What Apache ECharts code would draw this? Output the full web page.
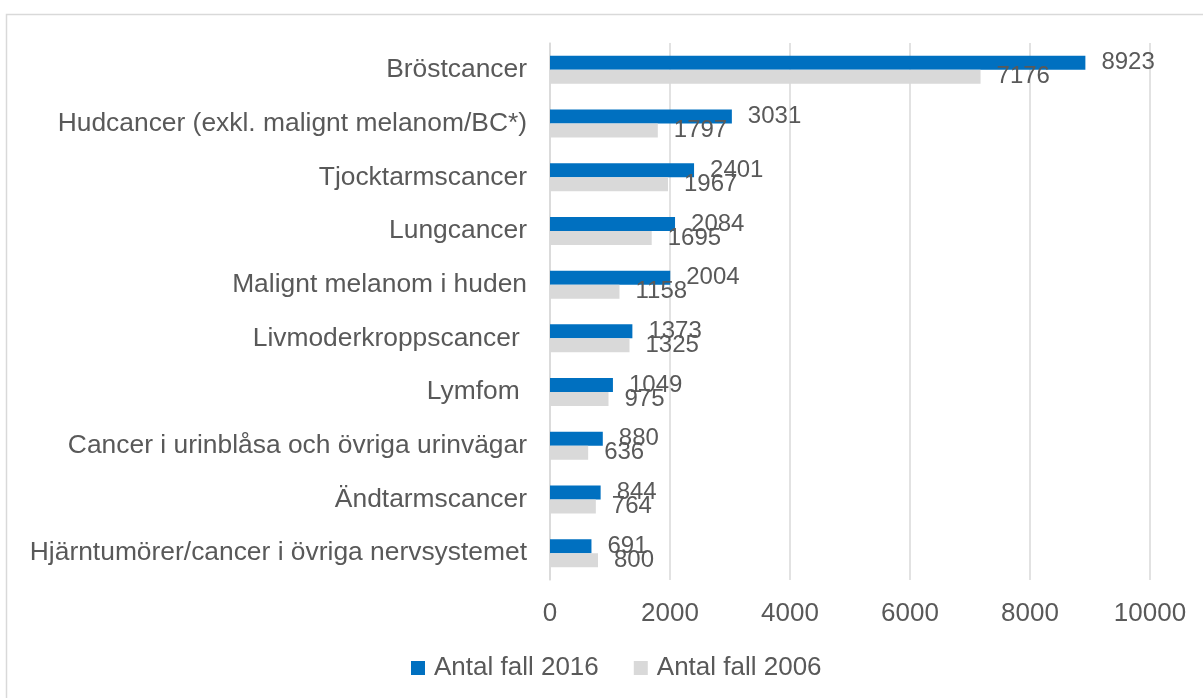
<!DOCTYPE html>
<html>
<head>
<meta charset="utf-8">
<script src="https://cdn.jsdelivr.net/npm/echarts@6/dist/echarts.min.js"></script>
<style>
  html, body { margin: 0; padding: 0; background: #fff; }
  #chart { width: 1203px; height: 698px; }
</style>
</head>
<body>
<div id="chart"></div>
<script>
const categories = [
  'Bröstcancer',
  'Hudcancer (exkl. malignt melanom/BC*)',
  'Tjocktarmscancer',
  'Lungcancer',
  'Malignt melanom i huden',
  'Livmoderkroppscancer ',
  'Lymfom ',
  'Cancer i urinblåsa och övriga urinvägar',
  'Ändtarmscancer',
  'Hjärntumörer/cancer i övriga nervsystemet'
]
const cases2016 = [8923, 3031, 2401, 2084, 2004, 1373, 1049, 880, 844, 691]
const cases2006 = [7176, 1797, 1967, 1695, 1158, 1325, 975, 636, 764, 800]
const seriesNames = ['Antal fall 2016', 'Antal fall 2006']

const textColor = '#595959'
const font = 'Liberation Sans, Arial, sans-serif'

const chart = echarts.init(document.getElementById('chart'))

const barLabel = {
  show: true,
  position: 'right',
  distance: 16,
  color: textColor,
  fontSize: 24,
  fontFamily: font
}

chart.setOption({
  backgroundColor: '#fff',
  animation: false,
  graphic: [{
    type: 'rect',
    shape: { x: 6.5, y: 14.5, width: 1400, height: 900 },
    style: { fill: 'none', stroke: '#d9d9d9', lineWidth: 1.5 },
    silent: true
  }],
  legend: {
    top: 650,
    left: 406,
    itemWidth: 14,
    itemHeight: 14,
    itemGap: 35,
    icon: 'rect',
    textStyle: { color: textColor, fontSize: 26, fontFamily: font, padding: [0, 0, 0, 4] },
    data: seriesNames
  },
  grid: {
    left: 550,
    right: 53,
    top: 43,
    bottom: 118,
    containLabel: false
  },
  xAxis: {
    type: 'value',
    min: 0,
    max: 10000,
    interval: 2000,
    axisLine: { show: false },
    axisTick: { show: false },
    axisLabel: {
      color: textColor, fontSize: 26, fontFamily: font, margin: 21,
      formatter: v => String(v)
    },
    splitLine: { lineStyle: { color: '#d9d9d9', width: 1.5 } }
  },
  yAxis: {
    type: 'category',
    inverse: true,
    data: categories,
    axisLine: { show: true, lineStyle: { color: '#d9d9d9', width: 1.5 } },
    axisTick: { show: false },
    axisLabel: { color: textColor, fontSize: 26.4, fontFamily: font, margin: 23 }
  },
  series: [
    {
      name: seriesNames[0],
      type: 'bar',
      data: cases2016,
      barWidth: 14,
      barGap: '0%',
      itemStyle: { color: '#0070c0' },
      label: barLabel
    },
    {
      name: seriesNames[1],
      type: 'bar',
      data: cases2006,
      barWidth: 14,
      barGap: '0%',
      itemStyle: { color: '#d9d9d9' },
      label: barLabel
    }
  ]
})
</script>
</body>
</html>
